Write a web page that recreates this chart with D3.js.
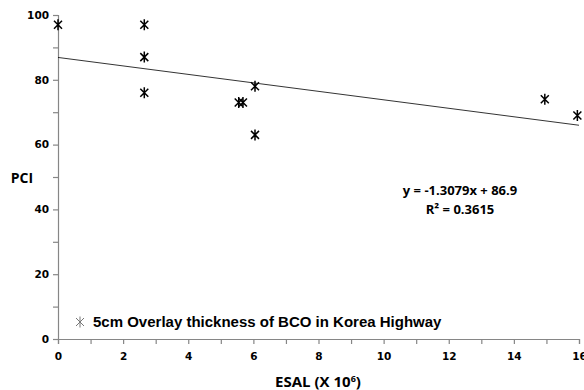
<!DOCTYPE html>
<html>
<head>
<meta charset="utf-8">
<script src="https://cdn.jsdelivr.net/npm/d3@7"></script>
<style>
  body { margin: 0; background: #fff; }
  svg { display: block; }
</style>
</head>
<body>
<div id="chart"></div>
<script>
// scatter data
var esal = [0, 2.65, 2.65, 2.65, 5.55, 5.68, 6.05, 6.05, 14.95, 15.95];
var pci = [97, 97, 87, 76, 73, 73, 78, 63, 74, 69];
var slope = -1.3079,
    intercept = 86.9;
var xTicks = [0, 2, 4, 6, 8, 10, 12, 14, 16];
var yTicks = [0, 20, 40, 60, 80, 100];

var width = 584,
    height = 390;
var margin = {left: 58, right: 5, top: 15, bottom: 51};

var svg = d3.select("#chart").append("svg")
    .attr("width", width)
    .attr("height", height);

var xScale = d3.scaleLinear()
    .domain([0, 16])
    .range([margin.left, width - margin.right]);
var yScale = d3.scaleLinear()
    .domain([0, 100])
    .range([height - margin.bottom, margin.top]);

var axisColor = "#868686";

// x axis: minor ticks every 1, labels every 2
var xAxis = svg.append("g")
    .attr("transform", "translate(0," + yScale(0) + ")")
    .call(d3.axisBottom(xScale)
        .tickValues(d3.range(0, 17, 1))
        .tickSize(5)
        .tickFormat(function(d) { return xTicks.indexOf(d) >= 0 ? d : ""; }));

// y axis: minor ticks every 10, labels every 20
var yAxis = svg.append("g")
    .attr("transform", "translate(" + xScale(0) + ",0)")
    .call(d3.axisLeft(yScale)
        .tickValues(d3.range(0, 101, 10))
        .tickSize(5)
        .tickFormat(function(d) { return yTicks.indexOf(d) >= 0 ? d : ""; }));

svg.selectAll(".domain, .tick line").attr("stroke", axisColor).attr("stroke-width", 1.2);
xAxis.selectAll("text")
    .attr("dy", "1.25em")
    .style("font", "bold 10.5px 'DejaVu Sans', sans-serif")
    .attr("fill", "#000");
yAxis.selectAll("text")
    .attr("x", -9)
    .style("font", "bold 10.5px 'DejaVu Sans', sans-serif")
    .attr("fill", "#000");

// trend line
svg.append("line")
    .attr("x1", xScale(0))
    .attr("y1", yScale(intercept))
    .attr("x2", xScale(16))
    .attr("y2", yScale(intercept + slope * 16))
    .attr("stroke", "#000")
    .attr("stroke-width", 0.8);

// asterisk marker
var star = "M-4,-4L4,4M-4,4L4,-4M0,-5.5L0,5.5";

svg.selectAll(".pt")
    .data(esal)
    .enter()
    .append("path")
        .attr("class", "pt")
        .attr("d", star)
        .attr("transform", function(d, i) {
            return "translate(" + xScale(d) + "," + yScale(pci[i]) + ")";
        })
        .attr("stroke", "#000")
        .attr("stroke-width", 1.5)
        .attr("fill", "none");

// equation
svg.append("text")
    .attr("x", 460).attr("y", 195)
    .attr("text-anchor", "middle")
    .style("font", "bold 13px 'Open Sans', sans-serif")
    .text("y = -1.3079x + 86.9");
svg.append("text")
    .attr("x", 460).attr("y", 214)
    .attr("text-anchor", "middle")
    .style("font", "bold 13px 'Open Sans', sans-serif")
    .text("R² = 0.3615");

// legend
svg.append("path")
    .attr("d", star)
    .attr("transform", "translate(80,322)")
    .attr("stroke", "#777")
    .attr("stroke-width", 1)
    .attr("fill", "none");
svg.append("text")
    .attr("x", 93).attr("y", 327)
    .style("font", "bold 15px 'Liberation Sans', Arial, sans-serif")
    .text("5cm Overlay thickness of BCO in Korea Highway");

// axis titles
svg.append("text")
    .attr("x", 22).attr("y", 183)
    .attr("text-anchor", "middle")
    .style("font", "bold 14px 'Open Sans', sans-serif")
    .text("PCI");
var xt = svg.append("text")
    .attr("x", 318).attr("y", 387)
    .attr("text-anchor", "middle")
    .style("font", "bold 15px 'Open Sans', sans-serif")
    .text("ESAL (X 10");
xt.append("tspan").attr("dy", -5).style("font-size", "9px").text("6");
xt.append("tspan").attr("dy", 5).text(")");
</script>
</body>
</html>
